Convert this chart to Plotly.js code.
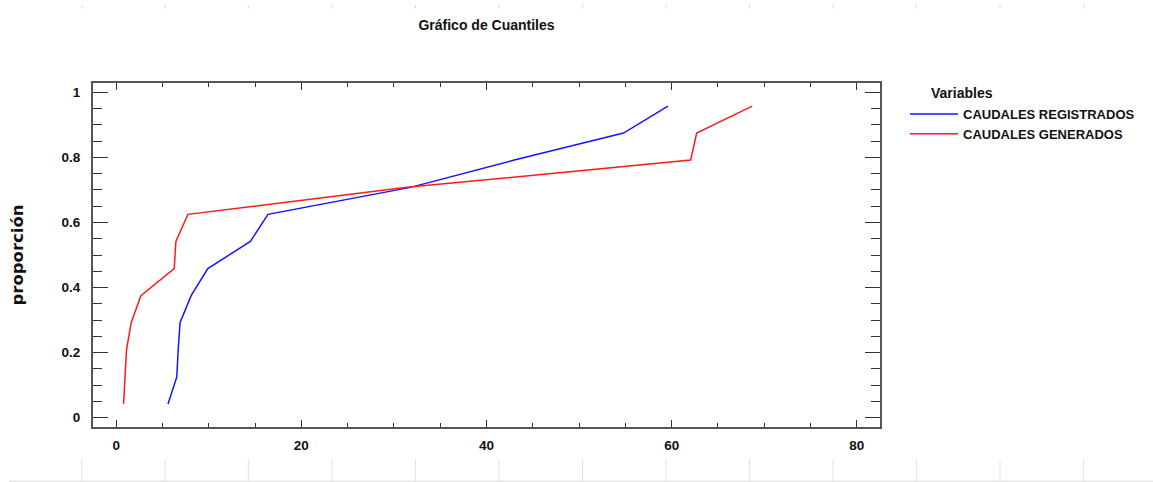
<!DOCTYPE html>
<html>
<head>
<meta charset="utf-8">
<script src="https://cdn.plot.ly/plotly-3.0.1.min.js"></script>
<style>html,body{margin:0;padding:0;background:#fff;}#chart{width:1153px;height:482px;}</style>
</head>
<body>
<div id="chart"></div>
<script>
// Quantile proportions (y) shared by both series
const proportions = [0.042, 0.125, 0.208, 0.292, 0.375, 0.458, 0.542, 0.625, 0.708, 0.792, 0.875, 0.958];
// Quantile values (x)
const caudalesRegistrados = [5.6, 6.55, 6.7, 6.9, 8.1, 9.9, 14.5, 16.4, 31.8, 43.0, 54.8, 59.6];
const caudalesGenerados = [0.8, 0.93, 1.12, 1.62, 2.67, 6.27, 6.45, 7.75, 31.4, 62.05, 62.7, 68.7];
const seriesNames = ["CAUDALES REGISTRADOS", "CAUDALES GENERADOS"];
const xTickVals = [0, 20, 40, 60, 80];
const yTickVals = [0, 0.2, 0.4, 0.6, 0.8, 1];
const yTickText = ["0", "0.2", "0.4", "0.6", "0.8", "1"];

const W = 1153, H = 482;
const L = 93, R = 880, T = 83, B = 427;
const narrow = "Liberation Sans Narrow, Arial Narrow, Liberation Sans, Arial, sans-serif";

const traces = [
  {x: caudalesRegistrados, y: proportions, name: "<b>" + seriesNames[0] + "</b>", type: "scatter", mode: "lines",
   line: {color: "#1414ff", width: 1.5}},
  {x: caudalesGenerados, y: proportions, name: "<b>" + seriesNames[1] + "</b>", type: "scatter", mode: "lines",
   line: {color: "#ff1a1a", width: 1.5}}
];

// decorative light grid artifacts around the picture
const px2x = p => (p - L) / (R - L);
const px2y = p => (B - p) / (B - T);
const deco = [];
const decoX = [81.7, 165, 248.3, 332, 415.5, 499, 582.5, 666, 749.5, 833, 916.5, 1000, 1083.5];
decoX.forEach(px => {
  deco.push({type: "line", xref: "paper", yref: "paper", x0: px2x(px), x1: px2x(px), y0: px2y(459), y1: px2y(481.5),
             line: {color: "#e2e2e2", width: 1}, layer: "below"});
  deco.push({type: "line", xref: "paper", yref: "paper", x0: px2x(px), x1: px2x(px), y0: px2y(5), y1: px2y(8.5),
             line: {color: "#d8d8d8", width: 1}, layer: "below"});
});
deco.push({type: "line", xref: "paper", yref: "paper", x0: px2x(9), x1: px2x(1153), y0: px2y(481.5), y1: px2y(481.5),
           line: {color: "#e2e2e2", width: 1.5}, layer: "below"});

const layout = {
  width: W, height: H,
  margin: {l: L, r: W - R, t: T, b: H - B, pad: 0, autoexpand: false},
  paper_bgcolor: "#fff", plot_bgcolor: "#fff",
  title: {text: "<b>Gráfico de Cuantiles</b>", x: 0.5, xref: "paper", xanchor: "center",
          y: 1 - 25 / H, yanchor: "middle", font: {family: narrow, size: 14, color: "#111"}},
  xaxis: {
    range: [-2.5, 82.5], showgrid: false, zeroline: false,
    showline: true, linecolor: "#555", linewidth: 2, mirror: "allticks",
    ticks: "inside", ticklen: 7, tickwidth: 1, tickcolor: "#333",
    tickvals: xTickVals, ticktext: xTickVals.map(v => "<b>" + v + "</b>"),
    tickfont: {family: narrow, size: 13.5, color: "#111"},
    ticklabelstandoff: 5,
    minor: {dtick: 5, tick0: 0, ticks: "inside", ticklen: 4, tickcolor: "#333", tickwidth: 1, showgrid: false}
  },
  yaxis: {
    range: [-0.029, 1.029], showgrid: false, zeroline: false,
    showline: true, linecolor: "#555", linewidth: 2, mirror: "allticks",
    ticks: "inside", ticklen: 15, tickwidth: 1.5, tickcolor: "#333",
    tickvals: yTickVals, ticktext: yTickText.map(v => "<b>" + v + "</b>"),
    tickfont: {family: narrow, size: 13.5, color: "#111"},
    ticklabelstandoff: 8,
    minor: {dtick: 0.05, tick0: 0, ticks: "inside", ticklen: 9, tickcolor: "#333", tickwidth: 1, showgrid: false},
    title: {text: "<b>proporción</b>", font: {family: "DejaVu Sans, sans-serif", size: 16.5, color: "#111"}, standoff: 34}
  },
  showlegend: true,
  legend: {x: px2x(905), xref: "paper", xanchor: "left", y: px2y(99), yanchor: "top",
           font: {family: narrow, size: 13, color: "#111"}, bgcolor: "rgba(0,0,0,0)",
           itemwidth: 48, tracegroupgap: 0, itemclick: false},
  annotations: [{text: "<b>Variables</b>", xref: "paper", yref: "paper", x: px2x(929), y: px2y(93),
                 xanchor: "left", yanchor: "middle", showarrow: false,
                 font: {family: narrow, size: 14, color: "#111"}}],
  shapes: deco
};

Plotly.newPlot("chart", traces, layout, {displayModeBar: false, staticPlot: true});
</script>
</body>
</html>
